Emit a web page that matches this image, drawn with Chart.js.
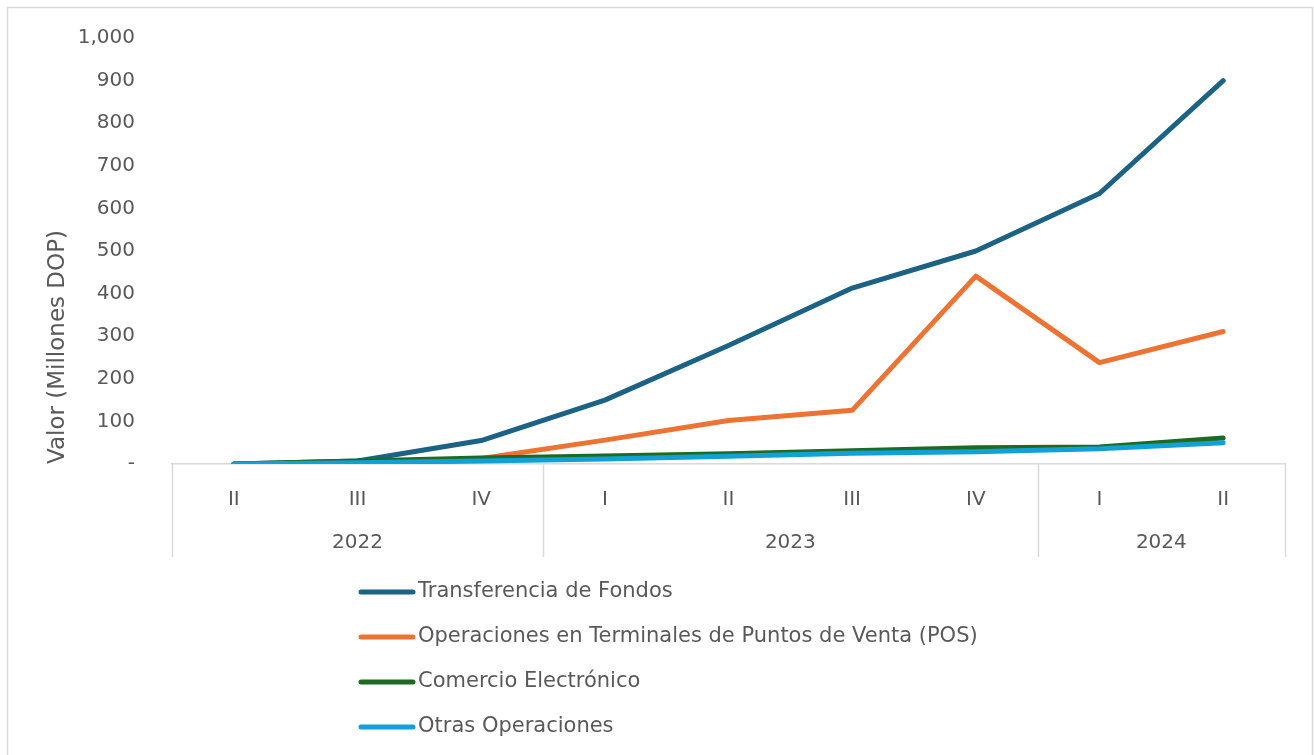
<!DOCTYPE html>
<html>
<head>
<meta charset="utf-8">
<script src="https://cdn.jsdelivr.net/npm/chart.js@4/dist/chart.umd.min.js"></script>
<style>
  html, body { margin: 0; padding: 0; background: #fff; }
  #wrap { width: 1314px; height: 755px; }
</style>
</head>
<body>
<div id="wrap"><canvas id="pagosChart" width="1314" height="755"></canvas></div>
<script>
// trimestres y años
const quarters = ['II', 'III', 'IV', 'I', 'II', 'III', 'IV', 'I', 'II'];
const years = ['2022', '2022', '2022', '2023', '2023', '2023', '2023', '2024', '2024'];

// valores en millones DOP
const transferencia = [0, 7, 55, 150, 278, 413, 500, 635, 900];
const pos = [0, 1, 13, 56, 102, 126, 441, 238, 311];
const comercio = [0, 7, 14, 19, 24, 31, 38, 40, 61];
const otras = [0, 3, 7, 12, 18, 25, 29, 36, 50];

const seriesNames = [
  'Transferencia de Fondos',
  'Operaciones en Terminales de Puntos de Venta (POS)',
  'Comercio Electrónico',
  'Otras Operaciones'
];
const seriesColors = ['#1B6285', '#ED7333', '#1D6B21', '#12A0D7'];

const FONT = '"DejaVu Sans", Inter, sans-serif';
const FSIZE = 20;
const TEXT = '#595959';
const RULE = '#d9d9d9';

// dibuja marco, título del eje, años, separadores y leyenda
const decor = {
  id: 'decor',
  beforeDraw(chart) {
    const ctx = chart.ctx;
    ctx.save();
    ctx.fillStyle = '#fff';
    ctx.fillRect(0, 0, chart.width, chart.height);
    ctx.strokeStyle = RULE;
    ctx.lineWidth = 1.5;
    ctx.strokeRect(7.5, 7.5, 1305, 800);
    ctx.restore();
  },
  afterDraw(chart) {
    const ctx = chart.ctx;
    const x = chart.scales.x;
    const area = chart.chartArea;
    const step = x.getPixelForValue(1) - x.getPixelForValue(0);
    ctx.save();

    // separadores de años
    ctx.strokeStyle = RULE;
    ctx.lineWidth = 1.5;
    const edges = [0];
    for (let i = 1; i < years.length; i++) if (years[i] !== years[i - 1]) edges.push(i);
    edges.push(years.length);
    edges.forEach(i => {
      const px = Math.round(x.getPixelForValue(0) - step / 2 + i * step) + 0.5;
      ctx.beginPath();
      ctx.moveTo(px, area.bottom);
      ctx.lineTo(px, 557);
      ctx.stroke();
    });

    // etiquetas de año
    ctx.fillStyle = TEXT;
    ctx.font = FSIZE + 'px ' + FONT;
    ctx.textAlign = 'center';
    ctx.textBaseline = 'middle';
    for (let k = 0; k < edges.length - 1; k++) {
      const a = x.getPixelForValue(edges[k]);
      const b = x.getPixelForValue(edges[k + 1] - 1);
      ctx.fillText(years[edges[k]], (a + b) / 2, 543);
    }

    // título del eje Y
    ctx.save();
    ctx.font = '23px ' + FONT;
    ctx.translate(58, 347);
    ctx.rotate(-Math.PI / 2);
    ctx.fillText('Valor (Millones DOP)', 0, 0);
    ctx.restore();

    // leyenda
    ctx.font = '21px ' + FONT;
    ctx.textAlign = 'left';
    ctx.lineCap = 'round';
    ctx.lineWidth = 5;
    seriesNames.forEach((name, i) => {
      const y = 592 + i * 45;
      ctx.strokeStyle = seriesColors[i];
      ctx.beginPath();
      ctx.moveTo(361, y);
      ctx.lineTo(413, y);
      ctx.stroke();
      ctx.fillStyle = TEXT;
      ctx.fillText(name, 418, y);
    });
    ctx.restore();
  }
};

const allSeries = [transferencia, pos, comercio, otras];

const data = {
  labels: quarters,
  datasets: allSeries.map((vals, i) => ({
    label: seriesNames[i],
    data: vals,
    borderColor: seriesColors[i],
    backgroundColor: seriesColors[i],
    borderWidth: 5,
    borderCapStyle: 'round',
    borderJoinStyle: 'round',
    pointRadius: 0,
    tension: 0,
    order: 3 - i
  }))
};

const config = {
  type: 'line',
  data: data,
  plugins: [decor],
  options: {
    responsive: false,
    animation: false,
    layout: { padding: { top: 38, right: 29, bottom: 0, left: 0 } },
    plugins: {
      legend: { display: false },
      tooltip: { enabled: false }
    },
    scales: {
      x: {
        offset: true,
        grid: { display: false },
        border: { display: true, color: RULE, width: 1.5 },
        ticks: {
          color: TEXT,
          font: { family: FONT, size: FSIZE },
          padding: 16,
          maxRotation: 0,
          autoSkip: false
        },
        afterFit(scale) { scale.height = 755 - 464; }
      },
      y: {
        min: 0,
        max: 1000,
        grid: { display: false },
        border: { display: false },
        ticks: {
          stepSize: 100,
          color: TEXT,
          font: { family: FONT, size: FSIZE },
          padding: 29,
          callback: v => v === 0 ? '-' : v.toLocaleString('en-US')
        },
        afterFit(scale) {
          scale.width = 172;
          scale.paddingTop = 0;
          scale.paddingBottom = 0;
        }
      }
    }
  }
};

const pagosChart = new Chart(
  document.getElementById('pagosChart').getContext('2d'),
  config
);
</script>
</body>
</html>
